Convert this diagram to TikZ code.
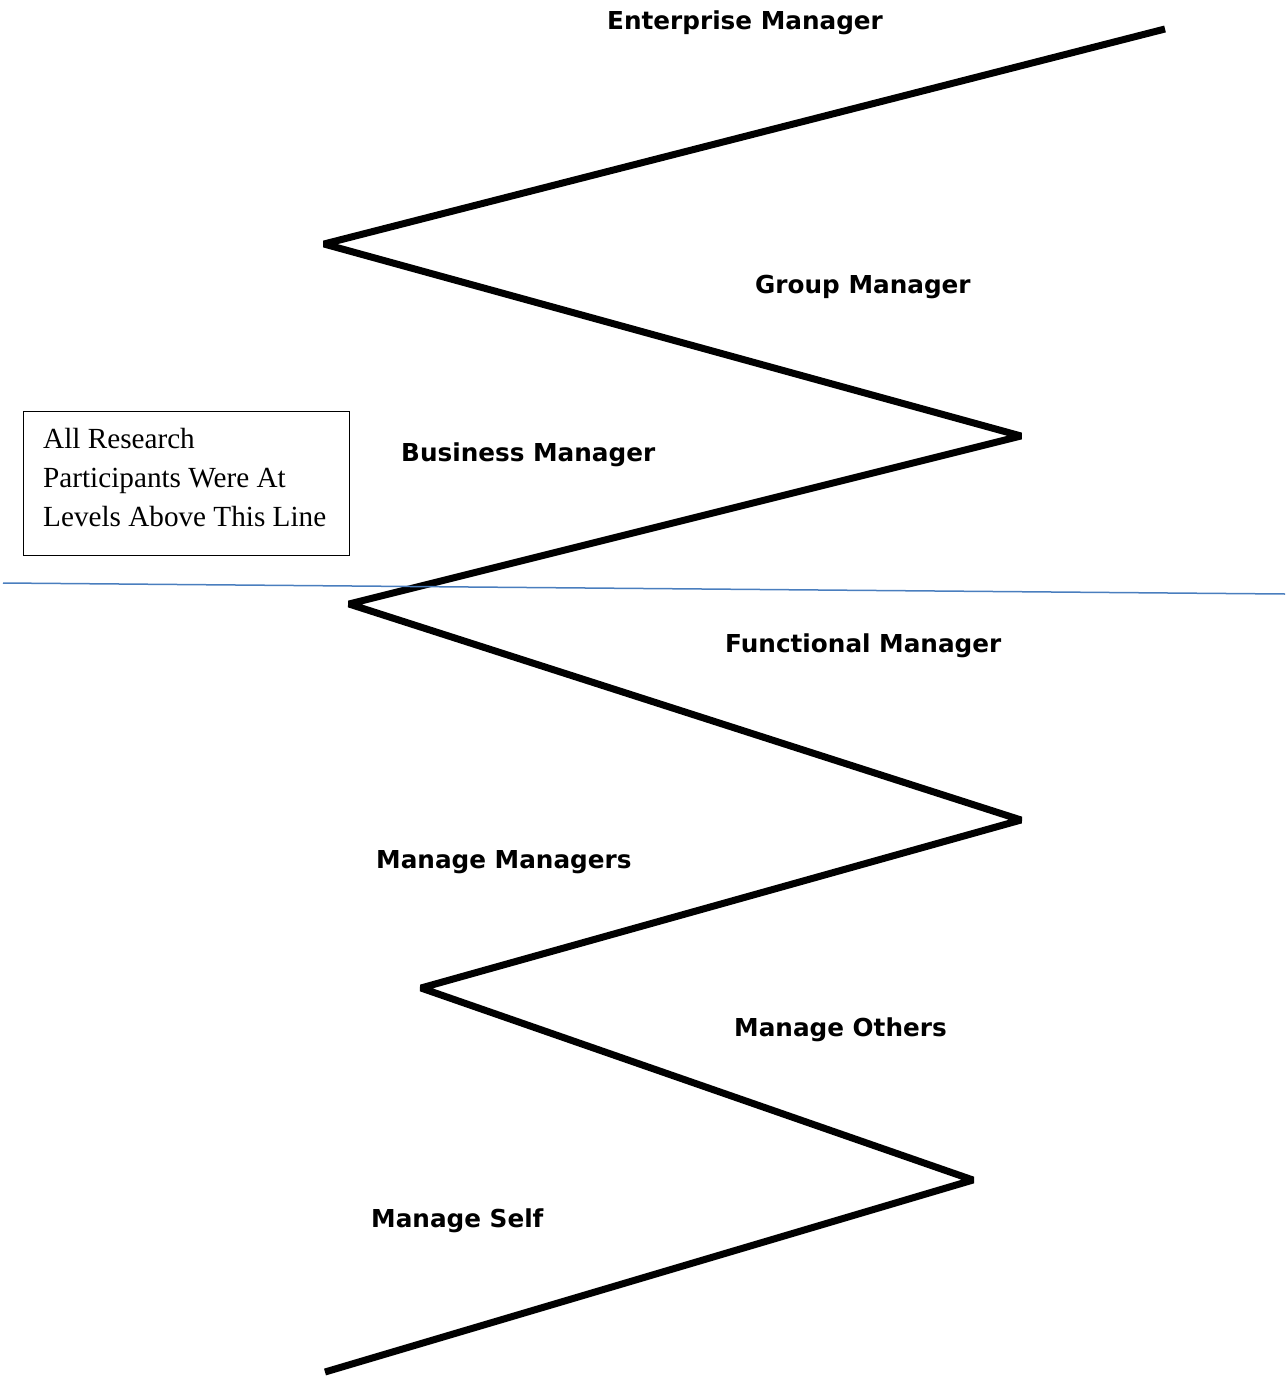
\documentclass[tikz,border=0pt]{standalone}
\usepackage{fontspec}
\setmainfont{Liberation Serif}
\newfontfamily\lblfont{DejaVu Sans}
\definecolor{divblue}{RGB}{74,126,190}
\begin{document}
\begin{tikzpicture}[x=1pt,y=-1pt,
  lbl/.style={anchor=base west,inner sep=0pt,font=\lblfont\bfseries\fontsize{24.7}{30}\selectfont},
  notetext/.style={anchor=base west,inner sep=0pt,font=\fontsize{29.2}{39}\selectfont},
  zig/.style={line width=7pt,line join=bevel},
  divider/.style={draw=divblue,line width=1.5pt},
  notebox/.style={draw,line width=1pt}]
\useasboundingbox (0,0) rectangle (1285,1378);
% zigzag
\coordinate (p1) at (1165,29);
\coordinate (p2) at (324,244);
\coordinate (p3) at (1021,436);
\coordinate (p4) at (349,604);
\coordinate (p5) at (1021,820);
\coordinate (p6) at (421,988);
\coordinate (p7) at (973,1180);
\coordinate (p8) at (325,1372);
\draw[zig] (p1) -- (p2) -- (p3) -- (p4) -- (p5) -- (p6) -- (p7) -- (p8);
% divider line
\coordinate (d1) at (3,583);
\coordinate (d2) at (1285,594);
\draw[divider] (d1) -- (d2);
% box
\coordinate (b1) at (23,411);
\coordinate (b2) at (349,555);
\draw[notebox] (b1) rectangle (b2);
\node[notetext] (note1) at (43,448) {All Research};
\node[notetext] (note2) at (43,487) {Participants Were At};
\node[notetext] (note3) at (43,526) {Levels Above This Line};
% labels
\node[lbl] (l1) at (607,30) {Enterprise Manager};
\node[lbl] (l2) at (755,293) {Group Manager};
\node[lbl] (l3) at (401,461) {Business Manager};
\node[lbl] (l4) at (725,652) {Functional Manager};
\node[lbl] (l5) at (376,868) {Manage Managers};
\node[lbl] (l6) at (734,1036) {Manage Others};
\node[lbl] (l7) at (371,1227) {Manage Self};
\end{tikzpicture}
\end{document}
